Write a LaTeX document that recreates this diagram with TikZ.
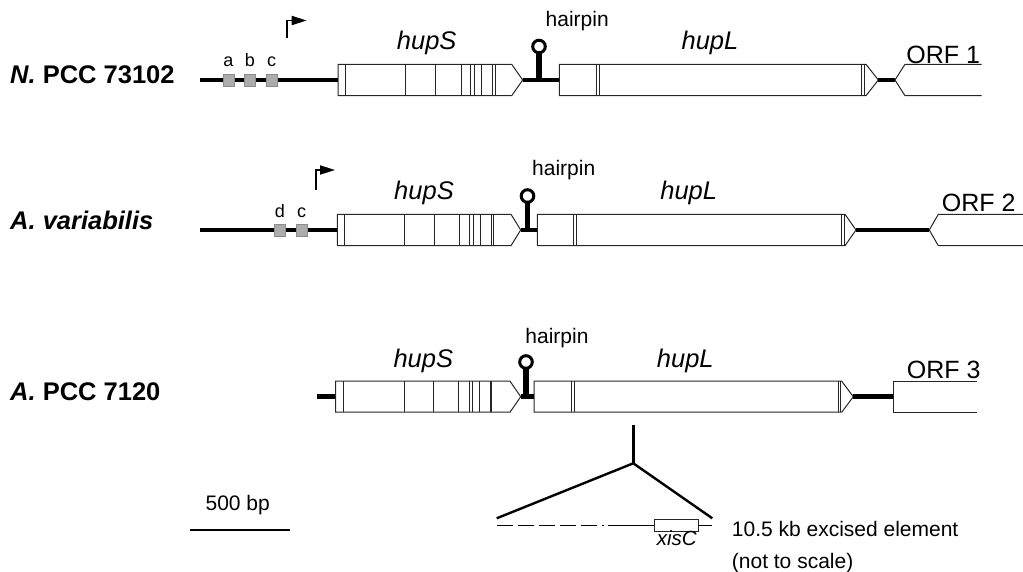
\documentclass[tikz,border=0pt]{standalone}
\usepackage{fontspec}
\setmainfont{Liberation Sans}
\usetikzlibrary{arrows.meta}
\begin{document}
\begin{tikzpicture}[x=1pt,y=-1pt,
 dna/.style={line width=4.8pt},
 genebox/.style={draw=black!85,line width=1pt,line join=miter},
 tick/.style={draw=black!85,line width=1pt},
 site/.style={fill=gray!65,draw=gray!90,line width=0.6pt},
 hp/.style={line width=3pt},
 stem/.style={line width=5.5pt},
 prom/.style={line width=1.8pt,-{Triangle[length=15pt,width=9pt]}},
 expand/.style={line width=2.4pt},
 species/.style={font=\fontsize{25.5}{30}\selectfont\bfseries,anchor=base west,inner sep=0},
 gene/.style={font=\fontsize{25.5}{30}\selectfont\itshape,anchor=base,inner sep=0},
 orf/.style={font=\fontsize{25}{30}\selectfont,anchor=base,inner sep=0},
 small/.style={font=\fontsize{21}{25}\selectfont,anchor=base,inner sep=0},
 sitelbl/.style={font=\fontsize{18}{20}\selectfont,anchor=base,inner sep=0},
]
\useasboundingbox (0,0) rectangle (1023,572);

% ---------------- Row 1: N. PCC 73102 ----------------
\node[species] (sp1) at (10,83.3) {\textit{N.} PCC 73102};
\draw[dna] (200,80) -- (338,80);
\foreach \x/\l in {228.3/a,250/b,271.7/c}{
  \draw[site] (\x-5.5,74) rectangle (\x+5.5,86);
  \node[sitelbl] (s1\l) at (\x,66.7) {\l};
}
\draw[prom] (287,38) -- (287,20.5) -- (306.7,20.5);
\draw[genebox] (338,64.3) -- (511.7,64.3) -- (522.7,80) -- (511.7,95.7) -- (338,95.7) -- cycle;
\foreach \x in {345.7,405.7,435.7,461,470,474,481,492.3,495}
  \draw[tick] (\x,64.3) -- (\x,95.7);
\draw[dna] (522.7,80) -- (559.3,80);
\draw[stem] (539,52) -- (539,80);
\draw[hp] (539,46.5) circle (6.3);
\draw[genebox] (559.3,64.3) -- (866,64.3) -- (878.3,80) -- (866,95.7) -- (559.3,95.7) -- cycle;
\foreach \x in {596.7,599.3,861.5,864}
  \draw[tick] (\x,64.3) -- (\x,95.7);
\draw[dna] (878.3,80) -- (895,80);
\draw[genebox] (981.7,64.3) -- (905,64.3) -- (895,80) -- (905,95.7) -- (981.7,95.7);
\node[gene] (hupS1) at (426.7,50) {hupS};
\node[gene] (hupL1) at (710,50) {hupL};
\node[small] (hp1) at (577.2,26.7) {hairpin};
\node[orf] (orf1) at (943.3,63.3) {ORF 1};

% ---------------- Row 2: A. variabilis ----------------
\node[species] (sp2) at (10,230) {\textit{A. variabilis}};
\draw[dna] (200,230) -- (337.3,230);
\foreach \x/\l in {280/d,301.7/c}{
  \draw[site] (\x-5.5,224) rectangle (\x+5.5,236);
  \node[sitelbl] (s2\l) at (\x,217.3) {\l};
}
\draw[prom] (316,190) -- (316,170) -- (335,170);
\draw[genebox] (337.3,214.3) -- (511,214.3) -- (520.7,230) -- (511,245.7) -- (337.3,245.7) -- cycle;
\foreach \x in {344,404,434,459.3,469.3,473.3,480,491.7,493.3}
  \draw[tick] (\x,214.3) -- (\x,245.7);
\draw[dna] (520.7,230) -- (537.3,230);
\draw[stem] (527.5,202) -- (527.5,230);
\draw[hp] (527.5,196) circle (6.3);
\draw[genebox] (537.3,214.3) -- (845,214.3) -- (856,230) -- (845,245.7) -- (537.3,245.7) -- cycle;
\foreach \x in {573.5,576.3,841.7,844}
  \draw[tick] (\x,214.3) -- (\x,245.7);
\draw[dna] (856,230) -- (929.3,230);
\draw[genebox] (1023,214.3) -- (938.3,214.3) -- (929.3,230) -- (938.3,245.7) -- (1023,245.7);
\node[gene] (hupS2) at (424,200) {hupS};
\node[gene] (hupL2) at (688.7,200) {hupL};
\node[small] (hp2) at (563.7,176) {hairpin};
\node[orf] (orf2) at (978.7,211.7) {ORF 2};

% ---------------- Row 3: A. PCC 7120 ----------------
\node[species] (sp3) at (10,400) {\textit{A.} PCC 7120};
\draw[dna] (316.7,396.7) -- (335.7,396.7);
\draw[genebox] (335.7,381.2) -- (510,381.2) -- (520.7,396.7) -- (510,412.2) -- (335.7,412.2) -- cycle;
\foreach \x in {343.3,404,433.3,458.3,469,472.7,479,490,491.7}
  \draw[tick] (\x,381.2) -- (\x,412.2);
\draw[dna] (520.7,396.7) -- (534,396.7);
\draw[stem] (526,368) -- (526,396.7);
\draw[hp] (526,362) circle (6.3);
\draw[genebox] (534,381.2) -- (841.7,381.2) -- (853.3,396.7) -- (841.7,412.2) -- (534,412.2) -- cycle;
\foreach \x in {571.5,574,838.3,840.7}
  \draw[tick] (\x,381.2) -- (\x,412.2);
\draw[dna] (853.3,396.7) -- (893.3,396.7);
\draw[genebox] (976.7,381.2) -- (893.3,381.2) -- (893.3,412.2) -- (976.7,412.2);
\node[gene] (hupS3) at (423.3,367.3) {hupS};
\node[gene] (hupL3) at (685.3,367.3) {hupL};
\node[small] (hp3) at (557,343.3) {hairpin};
\node[orf] (orf3) at (943.7,378.3) {ORF 3};

% ---------------- Excised element ----------------
\coordinate (ins) at (633.3,425);
\coordinate (apex) at (633.3,463.3);
\coordinate (eL) at (496.7,518.3);
\coordinate (eR) at (712.3,518.3);
\draw[expand] (ins) -- (apex);
\draw[expand] (eL) -- (apex) -- (eR);
\draw[line width=1.3pt,dash pattern=on 16pt off 5pt] (496.7,525.7) -- (604,525.7);
\draw[line width=1.3pt] (608,525.7) -- (654,525.7);
\draw[genebox] (654,519.5) rectangle (698.3,531.5);
\draw[line width=1.3pt] (698.3,525.7) -- (712.3,525.7);
\node[font=\fontsize{20.5}{24}\selectfont\itshape,anchor=base,inner sep=0] (xisC) at (676.7,545) {xisC};
\node[small,anchor=base west] (elem1) at (731.7,536) {10.5 kb excised element};
\node[small,anchor=base west] (elem2) at (731.7,568) {(not to scale)};

% ---------------- Scale bar ----------------
\coordinate (sbL) at (190.4,529.8);
\coordinate (sbR) at (290.4,529.8);
\draw[line width=1.4pt] (sbL) -- (sbR);
\node[small] (sb) at (237.7,510.5) {500 bp};
\end{tikzpicture}
\end{document}
